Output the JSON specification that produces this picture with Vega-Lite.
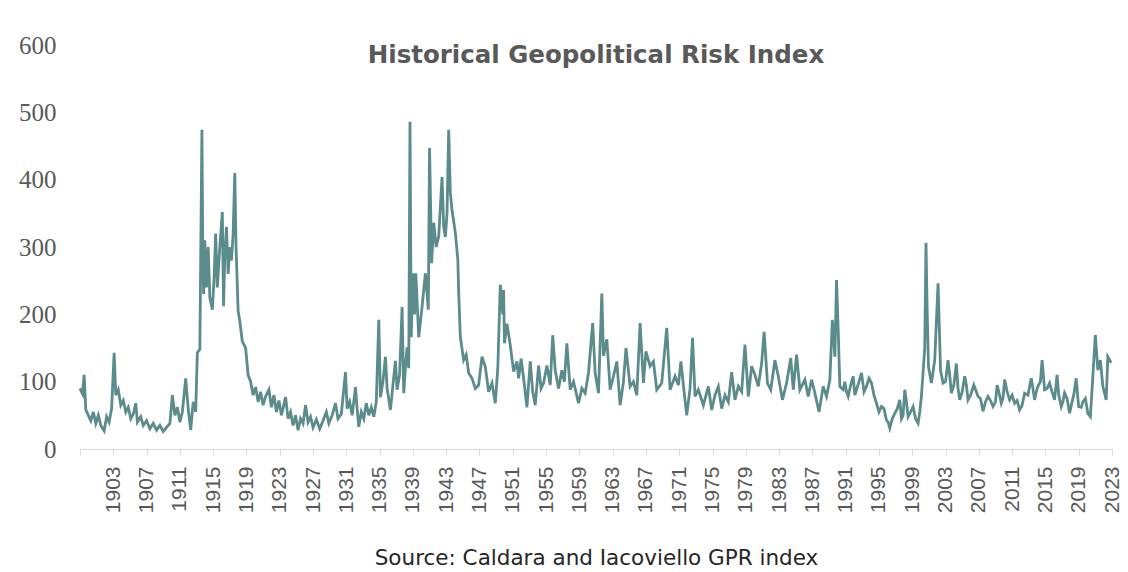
{
"$schema": "https://vega.github.io/schema/vega-lite/v6.json",
"width": 1032, "height": 404,
"autosize": "none",
"padding": {"left": 80, "top": 45, "right": 16, "bottom": 123},
"background": "white",
"title": {"text": "Historical Geopolitical Risk Index", "font": "DejaVu Sans", "fontSize": 24.5, "fontWeight": "bold", "color": "#595959", "anchor": "middle", "offset": -35},
"config": {"view": {"stroke": null}},
"data": {"values": [
{"t":1899.0,"v":90},{"t":1899.3,"v":82},{"t":1899.5,"v":110},{"t":1899.7,"v":58},{"t":1900.0,"v":50},{"t":1900.3,"v":42},{"t":1900.6,"v":55},{"t":1900.9,"v":38},{"t":1901.2,"v":50},{"t":1901.5,"v":35},{"t":1901.9,"v":27},{"t":1902.2,"v":48},{"t":1902.5,"v":40},{"t":1902.8,"v":60},{"t":1903.1,"v":143},{"t":1903.3,"v":80},{"t":1903.6,"v":88},{"t":1903.9,"v":65},{"t":1904.2,"v":72},{"t":1904.5,"v":55},{"t":1904.8,"v":62},{"t":1905.1,"v":45},{"t":1905.4,"v":52},{"t":1905.7,"v":68},{"t":1905.9,"v":40},{"t":1906.3,"v":48},{"t":1906.6,"v":35},{"t":1907.0,"v":42},{"t":1907.4,"v":30},{"t":1907.8,"v":38},{"t":1908.2,"v":28},{"t":1908.6,"v":35},{"t":1909.0,"v":26},{"t":1909.4,"v":32},{"t":1909.8,"v":38},{"t":1910.1,"v":80},{"t":1910.4,"v":50},{"t":1910.7,"v":62},{"t":1911.0,"v":40},{"t":1911.3,"v":55},{"t":1911.7,"v":105},{"t":1912.0,"v":60},{"t":1912.3,"v":28},{"t":1912.6,"v":70},{"t":1912.9,"v":55},{"t":1913.1,"v":143},{"t":1913.4,"v":148},{"t":1913.65,"v":474},{"t":1913.75,"v":300},{"t":1913.85,"v":230},{"t":1914.0,"v":310},{"t":1914.2,"v":240},{"t":1914.4,"v":300},{"t":1914.6,"v":225},{"t":1914.9,"v":207},{"t":1915.1,"v":250},{"t":1915.3,"v":320},{"t":1915.5,"v":240},{"t":1915.8,"v":300},{"t":1916.1,"v":352},{"t":1916.25,"v":212},{"t":1916.4,"v":290},{"t":1916.6,"v":330},{"t":1916.8,"v":260},{"t":1917.0,"v":300},{"t":1917.2,"v":280},{"t":1917.4,"v":320},{"t":1917.6,"v":410},{"t":1917.75,"v":300},{"t":1918.0,"v":205},{"t":1918.2,"v":190},{"t":1918.5,"v":160},{"t":1918.9,"v":150},{"t":1919.2,"v":110},{"t":1919.5,"v":100},
{"t":1919.8,"v":80},{"t":1920.1,"v":92},{"t":1920.4,"v":70},{"t":1920.7,"v":85},{"t":1921.0,"v":65},{"t":1921.3,"v":78},{"t":1921.7,"v":88},{"t":1922.0,"v":62},{"t":1922.3,"v":80},{"t":1922.6,"v":55},{"t":1922.9,"v":72},{"t":1923.2,"v":50},{"t":1923.7,"v":77},{"t":1924.0,"v":45},{"t":1924.3,"v":55},{"t":1924.6,"v":35},{"t":1924.9,"v":50},{"t":1925.2,"v":28},{"t":1925.5,"v":45},{"t":1925.8,"v":38},{"t":1926.1,"v":65},{"t":1926.4,"v":40},{"t":1926.7,"v":48},{"t":1927.0,"v":32},{"t":1927.4,"v":44},{"t":1927.8,"v":30},{"t":1928.2,"v":42},{"t":1928.6,"v":55},{"t":1928.9,"v":38},{"t":1929.3,"v":50},{"t":1929.7,"v":68},{"t":1930.0,"v":45},{"t":1930.4,"v":52},{"t":1930.9,"v":114},{"t":1931.1,"v":60},{"t":1931.4,"v":70},{"t":1931.7,"v":50},{"t":1932.1,"v":92},{"t":1932.3,"v":60},{"t":1932.5,"v":33},{"t":1932.8,"v":55},{"t":1933.1,"v":45},{"t":1933.4,"v":68},{"t":1933.7,"v":50},{"t":1934.0,"v":62},{"t":1934.3,"v":48},{"t":1934.6,"v":70},{"t":1934.9,"v":192},{"t":1935.1,"v":77},{"t":1935.4,"v":100},{"t":1935.7,"v":137},{"t":1935.9,"v":90},{"t":1936.3,"v":58},{"t":1936.6,"v":95},{"t":1936.9,"v":131},{"t":1937.1,"v":88},{"t":1937.4,"v":110},{"t":1937.7,"v":211},{"t":1937.9,"v":83},{"t":1938.1,"v":120},{"t":1938.3,"v":151},{"t":1938.5,"v":120},{"t":1938.65,"v":486},{"t":1938.8,"v":166},{"t":1939.0,"v":261},{"t":1939.2,"v":200},{"t":1939.35,"v":261},
{"t":1939.7,"v":166},{"t":1940.1,"v":211},{"t":1940.5,"v":261},{"t":1940.85,"v":207},{"t":1941.0,"v":447},{"t":1941.25,"v":276},{"t":1941.5,"v":336},{"t":1941.8,"v":300},{"t":1942.1,"v":316},{"t":1942.5,"v":404},{"t":1942.7,"v":330},{"t":1942.9,"v":315},{"t":1943.1,"v":350},{"t":1943.3,"v":474},{"t":1943.5,"v":380},{"t":1943.7,"v":355},{"t":1944.1,"v":321},{"t":1944.4,"v":281},{"t":1944.5,"v":232},{"t":1944.7,"v":166},{"t":1945.1,"v":132},{"t":1945.4,"v":140},{"t":1945.7,"v":113},{"t":1946.1,"v":105},{"t":1946.5,"v":90},{"t":1946.9,"v":95},{"t":1947.3,"v":137},{"t":1947.7,"v":122},{"t":1948.1,"v":85},{"t":1948.5,"v":98},{"t":1948.9,"v":68},{"t":1949.2,"v":120},{"t":1949.5,"v":244},{"t":1949.8,"v":200},{"t":1949.9,"v":236},{"t":1950.0,"v":157},{"t":1950.3,"v":186},{"t":1950.7,"v":154},{"t":1951.1,"v":115},{"t":1951.5,"v":130},{"t":1951.7,"v":105},{"t":1952.0,"v":134},{"t":1952.4,"v":95},{"t":1952.7,"v":62},{"t":1953.1,"v":130},{"t":1953.4,"v":85},{"t":1953.7,"v":65},{"t":1954.1,"v":124},{"t":1954.4,"v":90},{"t":1954.7,"v":98},{"t":1955.1,"v":124},{"t":1955.5,"v":95},{"t":1955.8,"v":169},{"t":1956.1,"v":117},{"t":1956.5,"v":90},{"t":1956.9,"v":117},{"t":1957.2,"v":100},{"t":1957.5,"v":157},{"t":1957.9,"v":88},{"t":1958.3,"v":100},{"t":1958.9,"v":68},{"t":1959.3,"v":90},{"t":1959.7,"v":83},
{"t":1960.1,"v":113},{"t":1960.6,"v":187},{"t":1960.9,"v":113},{"t":1961.3,"v":83},{"t":1961.7,"v":231},{"t":1961.9,"v":138},{"t":1962.3,"v":163},{"t":1962.7,"v":88},{"t":1963.1,"v":108},{"t":1963.5,"v":130},{"t":1963.9,"v":65},{"t":1964.3,"v":100},{"t":1964.6,"v":150},{"t":1965.1,"v":93},{"t":1965.5,"v":100},{"t":1965.9,"v":80},{"t":1966.3,"v":187},{"t":1966.7,"v":98},{"t":1967.0,"v":145},{"t":1967.5,"v":123},{"t":1967.9,"v":130},{"t":1968.3,"v":88},{"t":1968.9,"v":98},{"t":1969.5,"v":180},{"t":1969.9,"v":88},{"t":1970.5,"v":108},{"t":1970.9,"v":95},{"t":1971.2,"v":130},{"t":1971.6,"v":83},{"t":1971.9,"v":50},{"t":1972.3,"v":90},{"t":1972.6,"v":165},{"t":1972.9,"v":78},{"t":1973.3,"v":88},{"t":1973.9,"v":65},{"t":1974.5,"v":93},{"t":1974.9,"v":58},{"t":1975.3,"v":80},{"t":1975.7,"v":93},{"t":1976.1,"v":60},{"t":1976.5,"v":80},{"t":1976.9,"v":70},{"t":1977.3,"v":114},{"t":1977.7,"v":73},{"t":1978.1,"v":93},{"t":1978.5,"v":85},{"t":1978.9,"v":155},{"t":1979.3,"v":78},{"t":1979.7,"v":123},{"t":1980.1,"v":110},
{"t":1980.5,"v":93},{"t":1980.9,"v":127},{"t":1981.2,"v":174},{"t":1981.6,"v":98},{"t":1982.0,"v":88},{"t":1982.5,"v":132},{"t":1982.9,"v":108},{"t":1983.4,"v":73},{"t":1983.9,"v":98},{"t":1984.4,"v":135},{"t":1984.7,"v":88},{"t":1985.1,"v":140},{"t":1985.5,"v":88},{"t":1986.1,"v":103},{"t":1986.5,"v":78},{"t":1986.9,"v":103},{"t":1987.3,"v":83},{"t":1987.8,"v":55},{"t":1988.3,"v":93},{"t":1988.7,"v":78},{"t":1989.1,"v":103},{"t":1989.4,"v":192},{"t":1989.7,"v":137},{"t":1989.9,"v":251},{"t":1990.1,"v":177},{"t":1990.3,"v":93},{"t":1990.7,"v":88},{"t":1990.9,"v":100},{"t":1991.1,"v":85},{"t":1991.3,"v":78},{"t":1991.6,"v":95},{"t":1991.9,"v":108},{"t":1992.1,"v":80},{"t":1992.3,"v":88},{"t":1992.6,"v":100},{"t":1992.9,"v":113},{"t":1993.2,"v":85},{"t":1993.5,"v":93},{"t":1993.8,"v":105},{"t":1994.1,"v":98},{"t":1994.4,"v":80},{"t":1994.7,"v":68},{"t":1995.0,"v":55},{"t":1995.3,"v":63},{"t":1995.6,"v":60},{"t":1995.9,"v":43},{"t":1996.1,"v":40},{"t":1996.3,"v":31},{"t":1996.6,"v":45},{"t":1996.9,"v":53},{"t":1997.2,"v":60},{"t":1997.5,"v":73},{"t":1997.7,"v":45},{"t":1997.9,"v":50},{"t":1998.1,"v":88},{"t":1998.3,"v":70},{"t":1998.5,"v":48},{"t":1998.8,"v":55},{"t":1999.1,"v":63},{"t":1999.4,"v":45},{"t":1999.7,"v":38},{"t":1999.9,"v":55},{"t":2000.1,"v":78},{"t":2000.5,"v":150},{"t":2000.65,"v":306},{"t":2000.8,"v":200},{"t":2000.95,"v":122},
{"t":2001.3,"v":98},{"t":2001.7,"v":132},{"t":2002.1,"v":246},{"t":2002.4,"v":117},{"t":2002.7,"v":98},{"t":2003.0,"v":100},{"t":2003.3,"v":132},{"t":2003.5,"v":110},{"t":2003.7,"v":83},{"t":2004.0,"v":95},{"t":2004.3,"v":127},{"t":2004.5,"v":90},{"t":2004.7,"v":73},{"t":2005.0,"v":85},{"t":2005.3,"v":108},{"t":2005.5,"v":95},{"t":2005.7,"v":73},{"t":2006.0,"v":80},{"t":2006.4,"v":95},{"t":2006.7,"v":85},{"t":2006.9,"v":78},{"t":2007.2,"v":75},{"t":2007.5,"v":56},{"t":2007.8,"v":70},{"t":2008.1,"v":78},{"t":2008.4,"v":72},{"t":2008.7,"v":63},{"t":2009.0,"v":70},{"t":2009.2,"v":95},{"t":2009.5,"v":80},{"t":2009.7,"v":68},{"t":2009.9,"v":75},{"t":2010.1,"v":103},{"t":2010.4,"v":85},{"t":2010.7,"v":73},{"t":2011.0,"v":80},{"t":2011.3,"v":68},{"t":2011.6,"v":72},{"t":2011.9,"v":58},{"t":2012.2,"v":65},{"t":2012.5,"v":83},{"t":2012.9,"v":80},{"t":2013.3,"v":105},{"t":2013.5,"v":90},{"t":2013.7,"v":73},{"t":2013.9,"v":85},{"t":2014.1,"v":93},{"t":2014.4,"v":100},{"t":2014.6,"v":132},{"t":2014.9,"v":88},{"t":2015.2,"v":90},{"t":2015.5,"v":98},{"t":2015.8,"v":85},{"t":2016.1,"v":73},{"t":2016.4,"v":110},{"t":2016.6,"v":80},{"t":2016.9,"v":63},{"t":2017.1,"v":70},{"t":2017.3,"v":83},{"t":2017.6,"v":75},{"t":2017.9,"v":53},{"t":2018.2,"v":70},{"t":2018.4,"v":80},{"t":2018.7,"v":105},{"t":2018.9,"v":75},{"t":2019.0,"v":63},{"t":2019.3,"v":62},{"t":2019.5,"v":70},{"t":2019.8,"v":75},{"t":2020.1,"v":53},{"t":2020.4,"v":48},{"t":2020.7,"v":108},{"t":2021.0,"v":169},{"t":2021.3,"v":117},{"t":2021.6,"v":132},{"t":2021.9,"v":93},{"t":2022.3,"v":73},{"t":2022.5,"v":137},{"t":2022.9,"v":128}
]},
"mark": {"type": "line", "color": "#5b8b8b", "strokeWidth": 2.8},
"encoding": {
  "x": {"field": "t", "type": "quantitative",
    "scale": {"domain": [1899, 2023], "nice": false, "zero": false},
    "axis": {"values": [1899,1903,1907,1911,1915,1919,1923,1927,1931,1935,1939,1943,1947,1951,1955,1959,1963,1967,1971,1975,1979,1983,1987,1991,1995,1999,2003,2007,2011,2015,2019,2023],
      "format": "d", "labelExpr": "datum.value < 1900 ? '' : datum.label",
      "labelAngle": -90, "labelFlush": false, "labelOverlap": false,
      "labelFont": "Liberation Sans", "labelFontSize": 21, "labelColor": "#595959",
      "tickColor": "#d9d9d9", "domainColor": "#d9d9d9", "tickSize": 6, "labelPadding": 11, "grid": false,
      "title": "Source: Caldara and Iacoviello GPR index", "titleFont": "DejaVu Sans", "titleFontSize": 21.5,
      "titleFontWeight": "normal", "titleColor": "#262626", "titlePadding": 35}},
  "y": {"field": "v", "type": "quantitative",
    "scale": {"domain": [0, 600], "nice": false},
    "axis": {"values": [0,100,200,300,400,500,600], "domain": false, "ticks": false, "grid": false, "labelFlush": false,
      "labelFont": "Liberation Serif", "labelFontSize": 25, "labelColor": "#595959", "labelPadding": 24, "title": null}}
}
}
